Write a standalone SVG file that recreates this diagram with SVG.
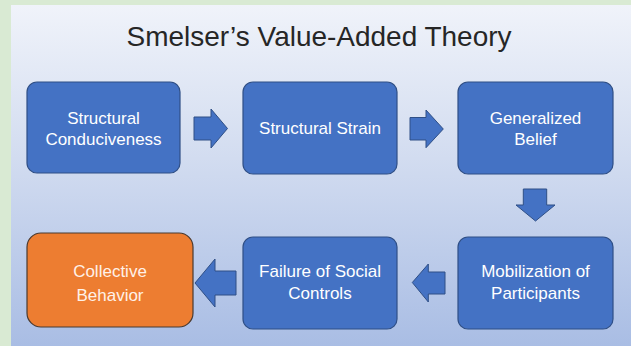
<svg xmlns="http://www.w3.org/2000/svg" width="631" height="346" viewBox="0 0 631 346">
  <defs>
    <linearGradient id="slideBg" x1="0" y1="0" x2="0" y2="1">
      <stop offset="0" stop-color="#f0f3fa"/>
      <stop offset="0.45" stop-color="#d2dcf0"/>
      <stop offset="1" stop-color="#a9bde4"/>
    </linearGradient>
    <style>
      .step { fill: #4472c4; stroke: #2f4f86; stroke-width: 1.2; }
      .final { fill: #ed7d31; stroke: #4a3a30; stroke-width: 1.2; }
      .arrow { fill: #4472c4; stroke: #2f4f86; stroke-width: 1; stroke-linejoin: miter; }
      .label { font-family: "Liberation Sans", Arial, sans-serif; font-size: 17px; fill: #ffffff; text-anchor: middle; }
      .label-final { fill: #fff1e8; }
      .title { font-family: "Liberation Sans", Arial, sans-serif; font-size: 28px; fill: #262626; text-anchor: middle; }
    </style>
  </defs>

  <!-- outer frame and slide -->
  <rect x="0" y="0" width="631" height="346" fill="#d9ead3"/>
  <rect x="11" y="5" width="620" height="341" fill="url(#slideBg)"/>

  <text class="title" x="319" y="46" textLength="385" lengthAdjust="spacingAndGlyphs">Smelser’s Value-Added Theory</text>

  <!-- connectors -->
  <g id="connectors">
    <polygon class="arrow" points="194,117 211,117 211,109 227.5,128.5 211,148 211,140 194,140"/>
    <polygon class="arrow" points="410,117.5 426,117.5 426,110 443.3,129 426,147.7 426,140 410,140"/>
    <polygon class="arrow" points="523.3,189 546.7,189 546.7,205 555,205 535.5,221 516,205 523.3,205"/>
    <polygon class="arrow" points="445,272 428.3,272 428.3,264 412.3,282.5 428.3,302 428.3,294 445,294"/>
    <polygon class="arrow" points="236,271 215,271 215,259 195,283 215,307 215,295 236,295"/>
  </g>

  <g id="structural-conduciveness">
    <rect class="step" x="27" y="82" width="153" height="91" rx="10"/>
    <text class="label" x="103.5" y="124">Structural</text>
    <text class="label" x="103.5" y="145">Conduciveness</text>
  </g>

  <g id="structural-strain">
    <rect class="step" x="243" y="82" width="154" height="92" rx="10"/>
    <text class="label" x="320" y="134">Structural Strain</text>
  </g>

  <g id="generalized-belief">
    <rect class="step" x="458" y="82" width="155" height="92" rx="10"/>
    <text class="label" x="535.5" y="124">Generalized</text>
    <text class="label" x="535.5" y="145">Belief</text>
  </g>

  <g id="mobilization-of-participants">
    <rect class="step" x="458" y="237" width="155" height="92" rx="10"/>
    <text class="label" x="535.5" y="277">Mobilization of</text>
    <text class="label" x="535.5" y="299">Participants</text>
  </g>

  <g id="failure-of-social-controls">
    <rect class="step" x="243" y="237" width="154" height="92" rx="10"/>
    <text class="label" x="320" y="277">Failure of Social</text>
    <text class="label" x="320" y="299">Controls</text>
  </g>

  <g id="collective-behavior">
    <rect class="final" x="27" y="233" width="166" height="94" rx="14"/>
    <text class="label label-final" x="110" y="277">Collective</text>
    <text class="label label-final" x="110" y="301">Behavior</text>
  </g>
</svg>
